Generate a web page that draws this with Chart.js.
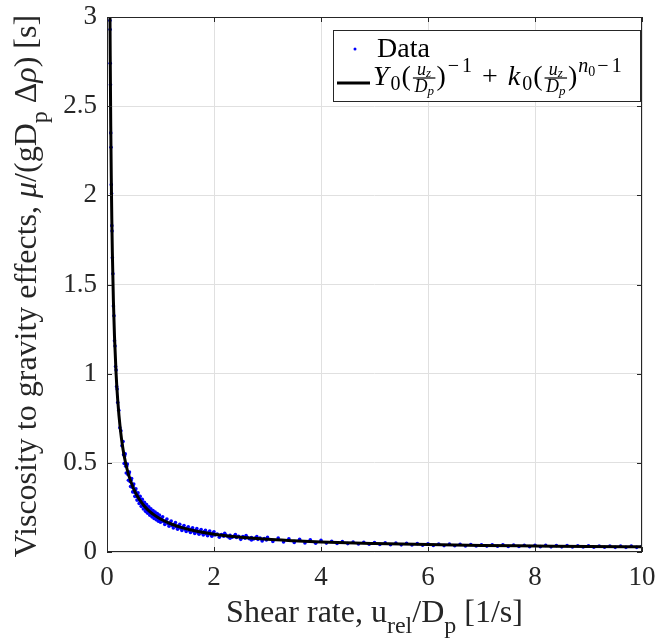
<!DOCTYPE html>
<html>
<head>
<meta charset="utf-8">
<script src="https://cdn.jsdelivr.net/npm/chart.js@4.4.1/dist/chart.umd.min.js"></script>
<style>
  html, body { margin: 0; padding: 0; background: #fff; }
  #wrap { width: 661px; height: 643px; }
</style>
</head>
<body>
<div id="wrap"><canvas id="viscosityChart" width="661" height="643"></canvas></div>
<script>
// measured points: shear rate u_rel/D_p [1/s] vs viscosity ratio [s]
const dataX = [
    0.055, 0.058, 0.06, 0.065, 0.07, 0.075, 0.08, 0.085, 0.09, 0.095,
    0.10, 0.11, 0.12, 0.13, 0.14, 0.15, 0.16, 0.17, 0.18, 0.19,
    0.20, 0.22, 0.24, 0.26, 0.28, 0.30, 0.32, 0.34, 0.36, 0.38,
    0.40, 0.42, 0.44, 0.46, 0.48, 0.50, 0.52, 0.54, 0.56, 0.58,
    0.60, 0.62, 0.64, 0.66, 0.68, 0.70, 0.72, 0.74, 0.76, 0.78,
    0.80, 0.82, 0.84, 0.86, 0.88, 0.90, 0.92, 0.94, 0.96, 0.98,
    1.00, 1.04, 1.08, 1.12, 1.16, 1.20, 1.24, 1.28, 1.32, 1.36,
    1.40, 1.44, 1.48, 1.52, 1.56, 1.60, 1.64, 1.68, 1.72, 1.76,
    1.80, 1.84, 1.88, 1.92, 1.96, 2.00, 2.1, 2.2, 2.3, 2.4,
    2.5, 2.6, 2.7, 2.8, 2.9, 3.0, 3.1, 3.2, 3.3, 3.4,
    3.5, 3.6, 3.7, 3.8, 3.9, 4.0, 4.1, 4.2, 4.3, 4.4,
    4.5, 4.6, 4.7, 4.8, 4.9, 5.0, 5.1, 5.2, 5.3, 5.4,
    5.5, 5.6, 5.7, 5.8, 5.9, 6.0, 6.1, 6.2, 6.3, 6.4,
    6.5, 6.6, 6.7, 6.8, 6.9, 7.0, 7.1, 7.2, 7.3, 7.4,
    7.5, 7.6, 7.7, 7.8, 7.9, 8.0, 8.1, 8.2, 8.3, 8.4,
    8.5, 8.6, 8.7, 8.8, 8.9, 9.0, 9.1, 9.2, 9.3, 9.4,
    9.5, 9.6, 9.7, 9.8, 9.9, 10.0
];
const dataY = [
    2.98, 2.93, 2.74, 2.62, 2.35, 2.27, 2.06, 2.01, 1.83, 1.80,
    1.65, 1.56, 1.38, 1.325, 1.185, 1.155, 1.04, 1.02, 0.928, 0.914,
    0.838, 0.795, 0.697, 0.680, 0.596, 0.620, 0.496, 0.550, 0.443, 0.493,
    0.402, 0.449, 0.367, 0.412, 0.337, 0.381, 0.312, 0.354, 0.291, 0.332,
    0.272, 0.312, 0.256, 0.295, 0.241, 0.279, 0.228, 0.266, 0.217, 0.254,
    0.206, 0.242, 0.197, 0.233, 0.188, 0.224, 0.181, 0.215, 0.173, 0.207,
    0.167, 0.197, 0.154, 0.185, 0.144, 0.174, 0.135, 0.165, 0.128, 0.156,
    0.121, 0.149, 0.115, 0.142, 0.109, 0.136, 0.104, 0.131, 0.100, 0.126,
    0.095, 0.121, 0.091, 0.118, 0.089, 0.113, 0.083, 0.105, 0.077, 0.098,
    0.071, 0.092, 0.067, 0.086, 0.062, 0.082, 0.059, 0.078, 0.056, 0.074,
    0.053, 0.071, 0.051, 0.068, 0.049, 0.065, 0.050, 0.060, 0.048, 0.058,
    0.047, 0.056, 0.045, 0.054, 0.044, 0.053, 0.042, 0.051, 0.041, 0.050,
    0.040, 0.049, 0.039, 0.047, 0.038, 0.046, 0.037, 0.045, 0.036, 0.044,
    0.035, 0.043, 0.034, 0.042, 0.034, 0.041, 0.033, 0.040, 0.032, 0.040,
    0.031, 0.039, 0.031, 0.038, 0.030, 0.038, 0.030, 0.037, 0.029, 0.036,
    0.029, 0.036, 0.028, 0.035, 0.028, 0.035, 0.027, 0.034, 0.027, 0.034,
    0.026, 0.033, 0.026, 0.033, 0.026, 0.032
];
// more measured points where the cloud is densest
const denseX = [
    0.31, 0.33, 0.35, 0.37, 0.39, 0.41, 0.43, 0.45, 0.47, 0.49,
    0.51, 0.53, 0.55, 0.57, 0.59, 0.61, 0.63, 0.65, 0.67, 0.69,
    0.71, 0.73, 0.75, 0.77, 0.79, 0.81, 0.83, 0.85, 0.87, 0.89,
    0.91, 0.93, 0.95, 0.97, 0.99, 1.02, 1.06, 1.10, 1.14, 1.18,
    1.22, 1.26, 1.30, 1.34, 1.38, 1.42, 1.46, 1.50, 1.54, 1.58,
    1.62, 1.66, 1.70, 1.74, 1.78, 1.82, 1.86, 1.90, 1.94, 1.98,
    2.02, 2.06, 2.10, 2.14, 2.18, 2.22, 2.26, 2.30, 2.34, 2.38,
    2.42, 2.46, 2.50, 2.54, 2.58, 2.62, 2.66, 2.70, 2.74, 2.78,
    2.82, 2.86, 2.90, 2.94, 2.98
];
const denseY = [
    0.546, 0.539, 0.481, 0.482, 0.434, 0.439, 0.395, 0.402, 0.363, 0.371,
    0.336, 0.345, 0.312, 0.322, 0.292, 0.302, 0.275, 0.285, 0.259, 0.270,
    0.246, 0.255, 0.233, 0.243, 0.222, 0.233, 0.213, 0.222, 0.203, 0.213,
    0.195, 0.205, 0.187, 0.197, 0.180, 0.188, 0.170, 0.176, 0.158, 0.165,
    0.148, 0.156, 0.140, 0.147, 0.133, 0.140, 0.127, 0.134, 0.121, 0.128,
    0.115, 0.123, 0.110, 0.118, 0.106, 0.114, 0.101, 0.109, 0.098, 0.106,
    0.095, 0.101, 0.092, 0.098, 0.089, 0.095, 0.086, 0.093, 0.083, 0.090,
    0.081, 0.088, 0.079, 0.086, 0.077, 0.083, 0.074, 0.081, 0.073, 0.080,
    0.071, 0.078, 0.069, 0.076, 0.067
];

// fitted curve Y0 (uz/Dp)^-1 + k0 (uz/Dp)^(n0-1)
const fitX = [0.05, 0.055, 0.06, 0.07, 0.08, 0.09, 0.1, 0.12, 0.14, 0.17,
    0.2, 0.25, 0.3, 0.35, 0.4, 0.5, 0.6, 0.7, 0.8, 0.9,
    1.0, 1.2, 1.4, 1.7, 2.0, 2.5, 3.0, 3.5, 4.0, 5.0,
    6.0, 7.0, 8.0, 9.0, 10.0];
const fitY = [3.34, 3.04, 2.785, 2.39, 2.10, 1.865, 1.68, 1.405, 1.209, 1.00,
    0.853, 0.686, 0.575, 0.496, 0.437, 0.353, 0.297, 0.257, 0.227, 0.204,
    0.185, 0.157, 0.137, 0.115, 0.100, 0.083, 0.071, 0.063, 0.056, 0.0475,
    0.0415, 0.037, 0.034, 0.031, 0.029];

const xTicks = [0, 2, 4, 6, 8, 10];
const yTicks = [0, 0.5, 1, 1.5, 2, 2.5, 3];

const SERIF = '"Liberation Serif", "Times New Roman", serif';
const INK = '#262626';

function fontOf(size, italic) {
    return (italic ? 'italic ' : '') + size + 'px ' + SERIF;
}

function partWidth(ctx, p) {
    if (p.frac) {
        return Math.max(runWidth(ctx, p.num), runWidth(ctx, p.den)) + 5;
    }
    ctx.font = fontOf(p.size, p.italic);
    return (p.pre || 0) + ctx.measureText(p.t).width + (p.gap || 0);
}

function runWidth(ctx, parts) {
    return parts.reduce((w, p) => w + partWidth(ctx, p), 0);
}

// draws a row of text pieces (with sub/superscripts and fractions) from x on baseline y
function drawRun(ctx, parts, x, y) {
    parts.forEach(p => {
        const w = partWidth(ctx, p);
        if (p.frac) {
            const barY = y - 7;
            const nw = runWidth(ctx, p.num);
            const dw = runWidth(ctx, p.den);
            ctx.fillRect(x + 1, barY - 0.6, w - 2, 1.2);
            drawRun(ctx, p.num, x + (w - nw) / 2, barY - 3);
            drawRun(ctx, p.den, x + (w - dw) / 2, barY + 14);
        } else {
            ctx.font = fontOf(p.size, p.italic);
            ctx.fillText(p.t, x + (p.pre || 0), y + (p.dy || 0));
        }
        x += w;
    });
    return x;
}

const yTitle = [
    { t: 'Viscosity to gravity effects, ', size: 32 },
    { t: '\u03bc', size: 32, italic: true },
    { t: '/(gD', size: 32 },
    { t: 'p', size: 24, dy: 11 },
    { t: ' \u0394', size: 32 },
    { t: '\u03c1', size: 32, italic: true },
    { t: ') [s]', size: 32 }
];
const xTitle = [
    { t: 'Shear rate, u', size: 32 },
    { t: 'rel', size: 24, dy: 11 },
    { t: '/D', size: 32 },
    { t: 'p', size: 24, dy: 11 },
    { t: ' [1/s]', size: 32 }
];
const fracUD = {
    frac: true,
    num: [{ t: 'u', size: 18, italic: true }, { t: 'z', size: 13, italic: true, dy: 2 }],
    den: [{ t: 'D', size: 18, italic: true }, { t: 'p', size: 13, italic: true, dy: 3 }]
};
const fitLabel = [
    { t: 'Y', size: 28, italic: true, gap: 2 },
    { t: '0', size: 20, dy: 5, gap: 1 },
    { t: '(', size: 28, gap: 1 },
    fracUD,
    { t: ')', size: 28, gap: 1 },
    { t: '\u2212', size: 20, dy: -13, pre: 1, gap: 3 },
    { t: '1', size: 20, dy: -13 },
    { t: '+', size: 28, pre: 10, gap: 10 },
    { t: 'k', size: 28, italic: true, gap: 2 },
    { t: '0', size: 20, dy: 5, gap: 1 },
    { t: '(', size: 28, gap: 1 },
    fracUD,
    { t: ')', size: 28, gap: 1 },
    { t: 'n', size: 20, italic: true, dy: -13 },
    { t: '0', size: 14, dy: -9, gap: 2 },
    { t: '\u2212', size: 20, dy: -13, gap: 3 },
    { t: '1', size: 20, dy: -13 }
];

const frameAndText = {
    id: 'frameAndText',
    afterDraw(chart) {
        const ctx = chart.ctx;
        const a = chart.chartArea;
        const xs = chart.scales.x, ys = chart.scales.y;
        ctx.save();

        // box + inward ticks on all sides
        ctx.strokeStyle = INK;
        ctx.lineWidth = 1;
        ctx.strokeRect(a.left + 0.5, a.top + 0.5, a.right - a.left - 1, a.bottom - a.top - 1);
        ctx.beginPath();
        xTicks.forEach(v => {
            const px = Math.round(xs.getPixelForValue(v)) + 0.5;
            ctx.moveTo(px, a.bottom); ctx.lineTo(px, a.bottom - 5);
            ctx.moveTo(px, a.top); ctx.lineTo(px, a.top + 5);
        });
        yTicks.forEach(v => {
            const py = Math.round(ys.getPixelForValue(v)) + 0.5;
            ctx.moveTo(a.left, py); ctx.lineTo(a.left + 5, py);
            ctx.moveTo(a.right, py); ctx.lineTo(a.right - 5, py);
        });
        ctx.stroke();

        // axis titles
        ctx.fillStyle = INK;
        ctx.textBaseline = 'alphabetic';
        ctx.textAlign = 'left';
        const xw = runWidth(ctx, xTitle);
        drawRun(ctx, xTitle, (a.left + a.right) / 2 - xw / 2, 622);

        ctx.save();
        ctx.translate(36, (a.top + a.bottom) / 2 + 1.5);
        ctx.rotate(-Math.PI / 2);
        const yw = runWidth(ctx, yTitle);
        drawRun(ctx, yTitle, -yw / 2, 0);
        ctx.restore();

        // legend
        const bx = a.right - 309, by = a.top + 13, bw = 307, bh = 71;
        ctx.fillStyle = '#fff';
        ctx.fillRect(bx, by, bw, bh);
        ctx.strokeStyle = INK;
        ctx.strokeRect(bx + 0.5, by + 0.5, bw, bh);

        const dots = chart.data.datasets[1];
        ctx.fillStyle = dots.backgroundColor;
        ctx.beginPath();
        ctx.arc(bx + 22, by + 19, 1.5, 0, Math.PI * 2);
        ctx.fill();
        ctx.fillStyle = '#000';
        ctx.font = fontOf(28, false);
        ctx.fillText(dots.label, bx + 44, by + 27);

        const fit = chart.data.datasets[0];
        ctx.strokeStyle = fit.borderColor;
        ctx.lineWidth = fit.borderWidth;
        ctx.beginPath();
        ctx.moveTo(bx + 4, by + 53);
        ctx.lineTo(bx + 37, by + 53);
        ctx.stroke();
        ctx.fillStyle = '#000';
        drawRun(ctx, fitLabel, bx + 40, by + 55);

        ctx.restore();
    }
};

const tickFont = { family: SERIF, size: 27 };
const points = (xs, ys) => xs.map((x, i) => ({ x: x, y: ys[i] }));

new Chart(document.getElementById('viscosityChart').getContext('2d'), {
    type: 'scatter',
    data: {
        datasets: [
            {
                label: 'fit',
                data: points(fitX, fitY),
                showLine: true,
                borderColor: '#000000',
                borderWidth: 3,
                pointRadius: 0,
                cubicInterpolationMode: 'monotone',
                order: 0
            },
            {
                label: 'Data',
                data: points(dataX, dataY).concat(points(denseX, denseY)),
                backgroundColor: '#0000ff',
                borderWidth: 0,
                pointRadius: 1.8,
                order: 1
            }
        ]
    },
    options: {
        responsive: false,
        animation: false,
        devicePixelRatio: 1,
        layout: { padding: { top: 17, right: 19, left: 0, bottom: 0 } },
        plugins: { legend: { display: false }, tooltip: { enabled: false } },
        scales: {
            x: {
                type: 'linear', min: 0, max: 10,
                afterBuildTicks: s => { s.ticks = xTicks.map(v => ({ value: v })); },
                afterFit: s => { s.height = 91; s.paddingLeft = 0; s.paddingRight = 0; },
                ticks: { font: tickFont, color: INK, padding: 10, maxRotation: 0, autoSkip: false,
                         callback: v => String(v) },
                grid: { color: '#e0e0e0', drawTicks: false },
                border: { display: false }
            },
            y: {
                type: 'linear', min: 0, max: 3,
                afterBuildTicks: s => { s.ticks = yTicks.map(v => ({ value: v })); },
                afterFit: s => { s.width = 107; s.paddingTop = 0; s.paddingBottom = 0; },
                ticks: { font: tickFont, color: INK, padding: 10, autoSkip: false,
                         callback: v => String(v) },
                grid: { color: '#e0e0e0', drawTicks: false },
                border: { display: false }
            }
        }
    },
    plugins: [frameAndText]
});
</script>
</body>
</html>
